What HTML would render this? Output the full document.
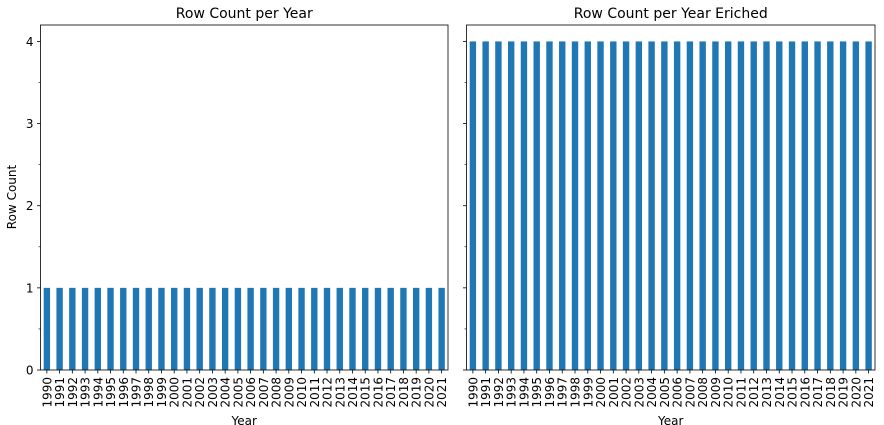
<!DOCTYPE html>
<html><head><meta charset="utf-8"><style>
body{margin:0;background:#fff}
svg{display:block;font-family:"DejaVu Sans","Liberation Sans",sans-serif}
</style></head><body>
<svg id="c" width="884" height="425"></svg>
<script>
const years=[1990,1991,1992,1993,1994,1995,1996,1997,1998,1999,2000,2001,2002,2003,2004,2005,2006,2007,2008,2009,2010,2011,2012,2013,2014,2015,2016,2017,2018,2019,2020,2021];
const countsOriginal=[1,1,1,1,1,1,1,1,1,1,1,1,1,1,1,1,1,1,1,1,1,1,1,1,1,1,1,1,1,1,1,1];
const countsEnriched=[4,4,4,4,4,4,4,4,4,4,4,4,4,4,4,4,4,4,4,4,4,4,4,4,4,4,4,4,4,4,4,4];
const yTicks=[0,0.5,1,1.5,2,2.5,3,3.5,4];
const yLabels=["0","","1","","2","","3","","4"];
const titles=["Row Count per Year","Row Count per Year Eriched"];
const NS="http://www.w3.org/2000/svg";
const svg=document.getElementById('c');
function mk(t,a,txt){const e=document.createElementNS(NS,t);for(const k in a)e.setAttribute(k,a[k]);if(txt!==undefined)e.textContent=txt;svg.appendChild(e);return e;}
const plotTop=25,plotBot=370,yMax=4.2;
function yS(v){return plotBot-(v/yMax)*(plotBot-plotTop);}
function panel(x0,x1,vals,title,showY,idx){
  const xS=i=>x0+(i+0.5)/years.length*(x1-x0);
  const bw=0.5*(x1-x0)/years.length;
  vals.forEach((v,i)=>{
    const r=mk('rect',{x:xS(i)-bw/2,y:yS(v),width:bw,height:yS(0)-yS(v),fill:'#1f77b4'});
    
    
    mk('line',{x1:xS(i),x2:xS(i),y1:plotBot,y2:plotBot+3.5,stroke:'#000','stroke-width':0.8});
    const lx=xS(i)+4.5,ly=plotBot+7;
    const lab=mk('text',{x:lx,y:ly,'font-size':12,'text-anchor':'end',transform:`rotate(-90 ${lx} ${ly})`},String(years[i]));
    
    
  });
  yTicks.forEach((v,i)=>{
    const major=yLabels[i]!=="";
    mk('line',{x1:x0,x2:x0-(major?3.5:2),y1:yS(v),y2:yS(v),stroke:'#000','stroke-width':major?0.8:0.6});
    if(showY&&major){const l=mk('text',{x:x0-7,y:yS(v)+4.5,'font-size':12,'text-anchor':'end'},yLabels[i]);
      
      }
  });
  const f=mk('rect',{x:x0,y:plotTop,width:x1-x0,height:plotBot-plotTop,fill:'none',stroke:'#000','stroke-width':0.8});
  
  
  const tt=mk('text',{x:(x0+x1)/2,y:plotTop-7,'font-size':14,'text-anchor':'middle'},title);
  
  
  const xl=mk('text',{x:(x0+x1)/2,y:425,'font-size':12,'text-anchor':'middle'},'Year');
  
  
}
panel(40.5,448,countsOriginal,titles[0],true,1);
panel(466.5,875,countsEnriched,titles[1],false,2);
const yl=mk('text',{x:16,y:197,'font-size':12,'text-anchor':'middle',transform:'rotate(-90 16 197)'},'Row Count');


</script>
</body></html>
